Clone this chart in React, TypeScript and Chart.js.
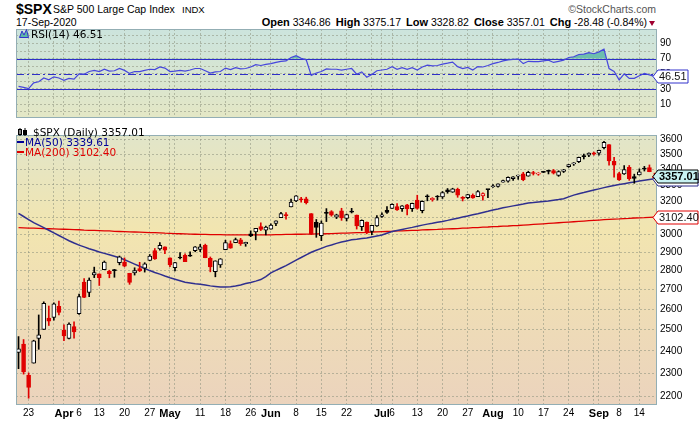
import React, { useEffect, useRef } from 'react';
import { Chart, registerables } from 'chart.js';

Chart.register(...registerables);

// ---------------- DATA ----------------
const DATES = [
  '2020-03-19', '2020-03-20', '2020-03-23', '2020-03-24', '2020-03-25', '2020-03-26', '2020-03-27', '2020-03-30', '2020-03-31',
  '2020-04-01', '2020-04-02', '2020-04-03', '2020-04-06', '2020-04-07', '2020-04-08', '2020-04-09', '2020-04-13', '2020-04-14',
  '2020-04-15', '2020-04-16', '2020-04-17', '2020-04-20', '2020-04-21', '2020-04-22', '2020-04-23', '2020-04-24', '2020-04-27',
  '2020-04-28', '2020-04-29', '2020-04-30', '2020-05-01', '2020-05-04', '2020-05-05', '2020-05-06', '2020-05-07', '2020-05-08',
  '2020-05-11', '2020-05-12', '2020-05-13', '2020-05-14', '2020-05-15', '2020-05-18', '2020-05-19', '2020-05-20', '2020-05-21',
  '2020-05-22', '2020-05-26', '2020-05-27', '2020-05-28', '2020-05-29', '2020-06-01', '2020-06-02', '2020-06-03', '2020-06-04',
  '2020-06-05', '2020-06-08', '2020-06-09', '2020-06-10', '2020-06-11', '2020-06-12', '2020-06-15', '2020-06-16', '2020-06-17',
  '2020-06-18', '2020-06-19', '2020-06-22', '2020-06-23', '2020-06-24', '2020-06-25', '2020-06-26', '2020-06-29', '2020-06-30',
  '2020-07-01', '2020-07-02', '2020-07-06', '2020-07-07', '2020-07-08', '2020-07-09', '2020-07-10', '2020-07-13', '2020-07-14',
  '2020-07-15', '2020-07-16', '2020-07-17', '2020-07-20', '2020-07-21', '2020-07-22', '2020-07-23', '2020-07-24', '2020-07-27',
  '2020-07-28', '2020-07-29', '2020-07-30', '2020-07-31', '2020-08-03', '2020-08-04', '2020-08-05', '2020-08-06', '2020-08-07',
  '2020-08-10', '2020-08-11', '2020-08-12', '2020-08-13', '2020-08-14', '2020-08-17', '2020-08-18', '2020-08-19', '2020-08-20',
  '2020-08-21', '2020-08-24', '2020-08-25', '2020-08-26', '2020-08-27', '2020-08-28', '2020-08-31', '2020-09-01', '2020-09-02',
  '2020-09-03', '2020-09-04', '2020-09-08', '2020-09-09', '2020-09-10', '2020-09-11', '2020-09-14', '2020-09-15', '2020-09-16',
  '2020-09-17',
];

const OPEN = [
  2393.48, 2431.94, 2290.71, 2344.44, 2457.77, 2501.29, 2555.87, 2558.98, 2614.69,
  2498.08, 2458.54, 2514.92, 2578.28, 2738.65, 2685.00, 2776.99, 2782.46, 2805.10,
  2795.64, 2799.34, 2842.43, 2845.62, 2784.81, 2787.89, 2810.42, 2812.64, 2854.65,
  2909.96, 2918.46, 2930.91, 2869.09, 2815.01, 2868.88, 2883.14, 2878.26, 2908.83,
  2915.46, 2939.50, 2865.86, 2794.54, 2829.95, 2913.86, 2948.59, 2953.63, 2969.95,
  2948.05, 3004.08, 3015.65, 3046.61, 3025.17, 3031.48, 3064.78, 3098.90, 3111.56,
  3163.84, 3199.92, 3213.32, 3213.42, 3123.53, 3071.04, 2993.76, 3131.00, 3136.13,
  3101.64, 3140.29, 3094.42, 3138.70, 3114.40, 3046.60, 3073.20, 3018.59, 3050.20,
  3105.92, 3143.64, 3155.29, 3166.44, 3153.07, 3176.17, 3152.47, 3205.08, 3141.11,
  3225.98, 3208.36, 3224.21, 3224.29, 3268.52, 3254.86, 3271.64, 3218.58, 3219.84,
  3234.27, 3227.22, 3231.76, 3270.45, 3288.26, 3289.92, 3317.37, 3323.17, 3340.05,
  3356.04, 3370.34, 3355.46, 3372.95, 3368.66, 3380.86, 3387.04, 3392.51, 3360.48,
  3386.01, 3418.09, 3435.95, 3449.97, 3485.14, 3494.69, 3509.73, 3507.44, 3543.76,
  3564.74, 3453.60, 3371.88, 3369.82, 3412.56, 3352.70, 3363.56, 3407.73, 3411.23,
  3346.86,
];

const HIGH = [
  2466.97, 2453.01, 2300.73, 2449.71, 2571.42, 2637.01, 2615.91, 2631.80, 2641.39,
  2522.75, 2533.22, 2538.18, 2676.85, 2756.89, 2760.75, 2818.57, 2782.46, 2851.85,
  2801.88, 2806.51, 2879.22, 2868.98, 2785.54, 2815.10, 2844.90, 2842.71, 2887.72,
  2921.15, 2954.86, 2930.91, 2869.09, 2844.24, 2898.23, 2891.11, 2901.92, 2932.16,
  2944.25, 2945.82, 2874.14, 2852.80, 2865.01, 2968.09, 2964.21, 2980.29, 2978.50,
  2956.76, 3021.72, 3036.25, 3068.67, 3049.17, 3062.18, 3081.07, 3130.94, 3128.91,
  3211.72, 3233.13, 3222.71, 3223.27, 3123.53, 3088.42, 3079.76, 3153.45, 3141.16,
  3120.00, 3155.53, 3120.92, 3154.90, 3115.01, 3086.25, 3073.73, 3053.89, 3111.51,
  3128.44, 3165.81, 3182.59, 3184.15, 3171.80, 3179.78, 3186.82, 3235.32, 3200.95,
  3238.28, 3220.39, 3233.52, 3258.61, 3277.29, 3279.32, 3279.99, 3227.26, 3241.43,
  3243.72, 3264.74, 3250.92, 3272.17, 3302.73, 3306.84, 3330.77, 3351.03, 3352.54,
  3363.29, 3381.01, 3387.89, 3387.24, 3378.51, 3387.59, 3395.06, 3399.54, 3390.80,
  3399.96, 3432.09, 3444.21, 3481.07, 3501.38, 3509.23, 3514.77, 3528.03, 3588.11,
  3564.85, 3479.15, 3379.97, 3424.77, 3425.55, 3368.95, 3402.93, 3419.48, 3428.92,
  3375.17,
];

const LOW = [
  2319.78, 2295.56, 2191.86, 2344.44, 2407.53, 2500.72, 2520.02, 2545.28, 2571.15,
  2447.49, 2455.79, 2459.96, 2574.57, 2657.67, 2663.30, 2762.36, 2721.17, 2805.10,
  2761.54, 2764.32, 2830.88, 2820.43, 2727.10, 2775.95, 2794.26, 2791.76, 2852.89,
  2860.71, 2912.16, 2892.47, 2821.61, 2797.85, 2863.55, 2847.65, 2876.48, 2902.88,
  2903.44, 2869.59, 2793.15, 2766.64, 2816.78, 2913.86, 2922.35, 2953.63, 2938.57,
  2933.59, 2988.17, 2969.75, 3023.40, 2998.61, 3031.48, 3051.64, 3098.90, 3090.41,
  3163.84, 3196.00, 3193.11, 3181.49, 2999.49, 2984.47, 2965.66, 3076.06, 3108.03,
  3093.51, 3083.11, 3079.39, 3127.12, 3032.13, 3024.01, 3004.63, 2999.74, 3047.83,
  3101.17, 3124.52, 3155.29, 3142.93, 3136.53, 3115.70, 3136.22, 3149.43, 3127.66,
  3200.76, 3198.59, 3205.65, 3215.16, 3247.77, 3253.10, 3222.66, 3200.05, 3214.25,
  3216.17, 3227.22, 3204.13, 3220.26, 3284.53, 3286.37, 3317.37, 3318.14, 3328.72,
  3335.44, 3326.44, 3355.46, 3363.35, 3361.64, 3379.22, 3370.15, 3369.66, 3354.69,
  3379.31, 3413.13, 3425.84, 3444.15, 3468.35, 3484.32, 3493.25, 3494.60, 3535.23,
  3427.41, 3349.63, 3329.27, 3366.84, 3329.25, 3310.47, 3363.56, 3389.25, 3384.45,
  3328.82,
];

const CLOSE = [
  2409.39, 2304.92, 2237.40, 2447.33, 2475.56, 2630.07, 2541.47, 2626.65, 2584.59,
  2470.50, 2526.90, 2488.65, 2663.68, 2659.41, 2749.98, 2789.82, 2761.63, 2846.06,
  2783.36, 2799.55, 2874.56, 2823.16, 2736.56, 2799.31, 2797.80, 2836.74, 2878.48,
  2863.39, 2939.51, 2912.43, 2830.71, 2842.74, 2868.44, 2848.42, 2881.19, 2929.80,
  2930.32, 2870.12, 2820.00, 2852.50, 2863.70, 2953.91, 2922.94, 2971.61, 2948.51,
  2955.45, 2991.77, 3036.13, 3029.73, 3044.31, 3055.73, 3080.82, 3122.87, 3112.35,
  3193.93, 3232.39, 3207.18, 3190.14, 3002.10, 3041.31, 3066.59, 3124.74, 3113.49,
  3115.34, 3097.74, 3117.86, 3131.29, 3050.33, 3083.76, 3009.05, 3053.24, 3100.29,
  3115.86, 3130.01, 3179.72, 3145.32, 3169.94, 3152.05, 3185.04, 3155.22, 3197.52,
  3226.56, 3215.57, 3224.73, 3251.84, 3257.30, 3276.02, 3235.66, 3215.63, 3239.41,
  3218.44, 3258.44, 3246.22, 3271.12, 3294.61, 3306.51, 3327.77, 3349.16, 3351.28,
  3360.47, 3333.69, 3380.35, 3373.43, 3372.85, 3381.99, 3389.78, 3374.85, 3385.51,
  3397.16, 3431.28, 3443.62, 3478.73, 3484.55, 3508.01, 3500.31, 3526.65, 3580.84,
  3455.06, 3426.96, 3331.84, 3398.96, 3339.19, 3340.97, 3383.54, 3401.20, 3385.49,
  3357.01,
];

const PREV_CLOSE = 2398.1; // close of the session before the first candle

const MA50 = [
  3125, 3106, 3088, 3070, 3055, 3040, 3025, 3010, 2995, 2980,
  2965, 2952, 2940, 2930, 2920, 2911, 2902, 2894, 2886, 2878,
  2870, 2859, 2847, 2835, 2823, 2811, 2800, 2790, 2781, 2771,
  2762, 2754, 2746, 2738, 2734, 2730, 2727, 2723, 2719, 2716,
  2713, 2713, 2715, 2718, 2724, 2731, 2737, 2744, 2752, 2768,
  2788, 2801, 2814, 2827, 2842, 2857, 2871, 2886, 2900, 2911,
  2922, 2933, 2941, 2950, 2958, 2964, 2970, 2973, 2977, 2980,
  2986, 2992, 2998, 3008, 3018, 3024, 3030, 3036, 3042, 3049,
  3055, 3061, 3066, 3072, 3077, 3083, 3090, 3096, 3103, 3109,
  3116, 3122, 3130, 3137, 3145, 3151, 3158, 3164, 3170, 3176,
  3181, 3187, 3190, 3194, 3197, 3200, 3205, 3209, 3214, 3225,
  3236, 3245, 3252, 3260, 3268, 3275, 3283, 3290, 3296, 3302,
  3308, 3314, 3319, 3325, 3330, 3335, 3339.61,
];

const MA200 = [
  3040, 3039, 3038, 3037, 3036, 3035, 3034, 3033, 3032, 3031,
  3030, 3029, 3028, 3026, 3025, 3024, 3023, 3022, 3021, 3019,
  3018, 3017, 3016, 3015, 3014, 3013, 3012, 3011, 3010, 3008,
  3007, 3006, 3005, 3004, 3003, 3002, 3001, 3001, 3000, 3000,
  3000, 2999, 2999, 2999, 2999, 2999, 2999, 2999, 2999, 2999,
  2999, 3000, 3000, 3001, 3001, 3002, 3002, 3003, 3003, 3004,
  3004, 3005, 3006, 3007, 3008, 3009, 3010, 3011, 3012, 3013,
  3015, 3016, 3017, 3018, 3019, 3021, 3022, 3023, 3024, 3025,
  3027, 3028, 3029, 3030, 3032, 3033, 3034, 3035, 3037, 3038,
  3040, 3041, 3043, 3044, 3046, 3047, 3049, 3050, 3052, 3053,
  3055, 3057, 3059, 3061, 3063, 3065, 3067, 3069, 3071, 3073,
  3075, 3077, 3079, 3081, 3083, 3085, 3087, 3089, 3091, 3092,
  3094, 3095, 3097, 3098, 3099, 3101, 3102.4,
];

const RSI = [
  33.5, 32, 30.5, 38, 39.5, 44.5, 42, 46, 44.5, 41.5,
  44, 43, 50, 49.5, 53, 54.5, 53, 56, 53.5, 54,
  57, 54.5, 50.5, 53, 53, 54.5, 56, 55.5, 59, 57.5,
  53, 53.5, 54.5, 53.5, 55, 57, 57, 54, 51, 52.5,
  53, 57.5, 55.5, 58, 56.5, 57, 59, 62, 61, 62.5,
  63.5, 65, 66.5, 67, 71.5, 74, 70.5, 68.5, 48, 51,
  53, 56.5, 56, 56, 55, 56, 57, 49.5, 52.5, 45.5,
  49, 54, 55, 56, 59.5, 56, 58, 56, 58, 55,
  59, 61.5, 60.5, 61, 62.8, 64, 65.5, 59.5, 57, 58.5,
  55, 59.5, 59, 61, 63.5, 65, 67, 68.5, 69, 69.5,
  63.5, 66.5, 66, 66, 67, 68, 65, 66.5, 68, 71.5,
  72.5, 75.5, 76, 78, 76.5, 79, 82.5, 57, 53, 42,
  50, 44, 44, 47.5, 50.5, 48.5, 46.51,
];

const PRICE_TICKS = [2200, 2300, 2400, 2500, 2600, 2700, 2800, 2900, 3000, 3100, 3200, 3300, 3400, 3500, 3600];
const PRICE_MIN = 2163.5;
const PRICE_MAX = 3631.7;

const RSI_TICKS = [0, 10, 20, 30, 40, 50, 60, 70, 80, 90, 100];
const RSI_LABELED = [10, 30, 50, 70, 90];
const RSI_LEVELS = [30, 50, 70];
const RSI_MIN = -8.4;
const RSI_MAX = 109.2;

// x ticks: index into DATES, with its label ('' = grid line only)
const X_TICKS = [2, 7, 9, 12, 16, 21, 26, 30, 31, 36, 41, 46, 50, 55, 60, 65, 70, 72, 74, 79, 84, 89, 94, 99, 104, 109, 114, 115, 119, 123];
const X_TICK_LABELS = ['23', '', 'Apr', '6', '13', '20', '27', 'May', '', '11', '18', '26', 'Jun', '8', '15', '22', '', 'Jul', '6', '13', '20', '27', 'Aug', '10', '17', '24', '', 'Sep', '8', '14'];
const MONTH_LABELS = ['Apr', 'May', 'Jun', 'Jul', 'Aug', 'Sep'];

const LAST_CLOSE = 3357.01;
const LAST_MA50 = 3339.61;
const LAST_MA200 = 3102.4;
const LAST_RSI = 46.51;

// ---------------- STYLE ----------------
const RED = '#e00000';
const BLACK = '#000000';
const GRID = 'rgba(140,145,125,0.55)';
const FRAME = '#93aeb4';
const SANS = '"Liberation Sans", Arial, sans-serif';
const VERD = '"DejaVu Sans", Verdana, sans-serif';

const candleColor = CLOSE.map((c, i) => (c < (i === 0 ? PREV_CLOSE : CLOSE[i - 1]) ? RED : BLACK));
const bodyFill = CLOSE.map((c, i) => {
  const filled = c < OPEN[i] || Math.abs(c - OPEN[i]) < 3;
  return filled ? candleColor[i] : '#ffffff';
});

function panelPlugin(stops: [number, string][]) {
  return {
    id: 'panel',
    beforeDraw(chart: any) {
      const { ctx, chartArea: a } = chart;
      const g = ctx.createLinearGradient(0, a.top, 0, a.bottom);
      stops.forEach(([o, c]) => g.addColorStop(o, c));
      ctx.save();
      ctx.fillStyle = g;
      ctx.fillRect(a.left, a.top, a.right - a.left, a.bottom - a.top);
      ctx.restore();
    },
    afterDatasetsDraw(chart: any) {
      const { ctx, chartArea: a } = chart;
      ctx.save();
      ctx.strokeStyle = FRAME;
      ctx.lineWidth = 1;
      ctx.strokeRect(a.left + 0.5, a.top + 0.5, a.right - a.left - 1, a.bottom - a.top - 1);
      ctx.restore();
    },
  };
}

function drawTag(ctx: CanvasRenderingContext2D, x: number, y: number, w: number, text: string,
  o: { fill: string; stroke: string; color: string; bold?: boolean }) {
  const h = 13;
  const tip = 5;
  const yy = Math.round(y) + 0.5;
  ctx.save();
  ctx.beginPath();
  ctx.moveTo(x, yy);
  ctx.lineTo(x + tip, yy - h / 2);
  ctx.lineTo(x + w, yy - h / 2);
  ctx.lineTo(x + w, yy + h / 2);
  ctx.lineTo(x + tip, yy + h / 2);
  ctx.closePath();
  ctx.fillStyle = o.fill;
  ctx.fill();
  ctx.lineWidth = 1;
  ctx.strokeStyle = o.stroke;
  ctx.stroke();
  ctx.fillStyle = o.color;
  ctx.font = `${o.bold ? 'bold ' : ''}11px ${SANS}`;
  ctx.textBaseline = 'middle';
  ctx.textAlign = 'left';
  ctx.fillText(text, x + tip + 1, yy + 0.5);
  ctx.restore();
}

const mainTags = {
  id: 'mainTags',
  afterDraw(chart: any) {
    const { ctx, chartArea: a, scales } = chart;
    const y = scales.y;
    const x0 = a.right - 4;
    drawTag(ctx, x0, y.getPixelForValue(LAST_MA200), 45, LAST_MA200.toFixed(2), { fill: '#ffffff', stroke: RED, color: '#111' });
    drawTag(ctx, x0, y.getPixelForValue(LAST_MA50), 45, LAST_MA50.toFixed(2), { fill: '#ffffff', stroke: '#2f2f8f', color: '#111' });
    drawTag(ctx, x0, y.getPixelForValue(LAST_CLOSE), 45, LAST_CLOSE.toFixed(2), { fill: '#c8f2f2', stroke: '#000', color: '#000', bold: true });
  },
};

const rsiExtras = {
  id: 'rsiExtras',
  beforeDatasetsDraw(chart: any) {
    const { ctx, chartArea: a, scales } = chart;
    ctx.save();
    ctx.strokeStyle = '#2f2fc8';
    ctx.lineWidth = 1.2;
    RSI_LEVELS.forEach((lv) => {
      const yy = Math.round(scales.y.getPixelForValue(lv)) + 0.5;
      ctx.setLineDash(lv === 50 ? [8, 3, 2, 3] : []);
      ctx.beginPath();
      ctx.moveTo(a.left, yy);
      ctx.lineTo(a.right, yy);
      ctx.stroke();
    });
    ctx.restore();
  },
  afterDraw(chart: any) {
    const { ctx, chartArea: a, scales } = chart;
    drawTag(ctx, a.right - 4, scales.y.getPixelForValue(LAST_RSI), 35, LAST_RSI.toFixed(2), { fill: '#ffffff', stroke: '#3333cc', color: '#111' });
  },
};

function xScale(showTicks: boolean) {
  return {
    type: 'category',
    offset: true,
    grid: { offset: false, color: GRID, drawTicks: false, lineWidth: 1 },
    border: { display: false, dash: [2, 2] },
    ticks: {
      display: showTicks,
      autoSkip: false,
      maxRotation: 0,
      minRotation: 0,
      padding: 2,
      color: '#000',
      font: (ctx: any) => {
        const lbl = X_TICK_LABELS[ctx.index];
        const isMonth = MONTH_LABELS.includes(lbl);
        return { family: SANS, size: isMonth ? 11 : 10, weight: isMonth ? 'bold' : 'normal' };
      },
      callback: (_v: any, i: number) => X_TICK_LABELS[i],
    },
    afterBuildTicks: (s: any) => {
      s.ticks = X_TICKS.map((v) => ({ value: v }));
    },
    afterFit: (s: any) => {
      s.height = showTicks ? 16 : 0;
    },
  };
}

export default function App() {
  const rsiRef = useRef<HTMLCanvasElement | null>(null);
  const mainRef = useRef<HTMLCanvasElement | null>(null);

  useEffect(() => {
    const rsiChart = new Chart(rsiRef.current as HTMLCanvasElement, {
      type: 'line',
      data: {
        labels: DATES,
        datasets: [
          {
            data: RSI,
            borderColor: '#4646dc',
            borderWidth: 1.2,
            pointRadius: 0,
            tension: 0,
            fill: { target: { value: 70 }, above: '#6cbdae', below: 'rgba(0,0,0,0)' },
          },
        ],
      },
      options: {
        animation: false,
        responsive: false,
        events: [],
        layout: { padding: { left: 16, top: 8, right: 0, bottom: 1 } },
        plugins: { legend: { display: false }, tooltip: { enabled: false } },
        scales: {
          x: xScale(false) as any,
          y: {
            type: 'linear',
            position: 'right',
            min: RSI_MIN,
            max: RSI_MAX,
            grid: { color: GRID, drawTicks: false },
            border: { display: false, dash: [2, 2] },
            ticks: {
              autoSkip: false,
              padding: 3,
              color: '#000',
              font: { family: SANS, size: 10 },
              callback: (v: any) => (RSI_LABELED.includes(Number(v)) ? String(v) : ''),
            },
            afterBuildTicks: (s: any) => {
              s.ticks = RSI_TICKS.map((v) => ({ value: v }));
            },
            afterFit: (s: any) => {
              s.width = 43;
            },
          },
        },
      },
      plugins: [panelPlugin([[0, '#cce4dd'], [0.5, '#d7e5d2'], [1, '#e4e7c5']]), rsiExtras],
    } as any);

    const mainChart = new Chart(mainRef.current as HTMLCanvasElement, {
      type: 'bar',
      data: {
        labels: DATES,
        datasets: [
          {
            type: 'bar',
            data: OPEN.map((o, i) => [o, CLOSE[i]]),
            backgroundColor: bodyFill,
            borderColor: candleColor,
            borderWidth: 1,
            borderSkipped: false,
            barThickness: 4,
            maxBarThickness: 4,
            minBarLength: 1,
            grouped: false,
            order: 0,
          },
          {
            type: 'bar',
            data: LOW.map((l, i) => [l, HIGH[i]]),
            backgroundColor: candleColor,
            borderWidth: 0,
            barThickness: 1,
            maxBarThickness: 1,
            grouped: false,
            order: 1,
          },
          {
            type: 'line',
            data: MA50,
            borderColor: '#2f2f8f',
            borderWidth: 1.5,
            pointRadius: 0,
            order: 2,
          },
          {
            type: 'line',
            data: MA200,
            borderColor: RED,
            borderWidth: 1.3,
            pointRadius: 0,
            order: 3,
          },
        ],
      },
      options: {
        animation: false,
        responsive: false,
        events: [],
        layout: { padding: { left: 16, top: 1, right: 0, bottom: 0 } },
        plugins: { legend: { display: false }, tooltip: { enabled: false } },
        scales: {
          x: xScale(true) as any,
          y: {
            type: 'logarithmic',
            position: 'right',
            min: PRICE_MIN,
            max: PRICE_MAX,
            grid: { color: GRID, drawTicks: false },
            border: { display: false, dash: [2, 2] },
            ticks: {
              autoSkip: false,
              padding: 3,
              color: '#000',
              font: { family: SANS, size: 10 },
              callback: (v: any) => String(v),
            },
            afterBuildTicks: (s: any) => {
              s.ticks = PRICE_TICKS.map((v) => ({ value: v }));
            },
            afterFit: (s: any) => {
              s.width = 43;
            },
          },
        },
      },
      plugins: [panelPlugin([[0, '#e1e5c9'], [0.35, '#f2e5b0'], [1, '#ebd3bd']]), mainTags],
    } as any);

    return () => {
      rsiChart.destroy();
      mainChart.destroy();
    };
  }, []);

  const abs = (extra: React.CSSProperties): React.CSSProperties => ({
    position: 'absolute',
    whiteSpace: 'nowrap',
    lineHeight: 1,
    ...extra,
  });

  return (
    <div style={{ position: 'absolute', left: 0, top: 0, width: 700, height: 421, background: '#fff', overflow: 'hidden', fontFamily: SANS, color: '#000' }}>
      {/* header */}
      <div style={abs({ left: 16, top: 2, fontSize: 14, fontWeight: 'bold' })}>$SPX</div>
      <div style={abs({ left: 53, top: 4, fontSize: 10.5 })}>S&amp;P 500 Large Cap Index</div>
      <div style={abs({ left: 182, top: 4.5, fontSize: 9.5 })}>INDX</div>
      <div style={abs({ right: 44, top: 3.5, fontSize: 10.5, color: '#555' })}>©StockCharts.com</div>
      <div style={abs({ left: 16, top: 17, fontSize: 10.5 })}>17-Sep-2020</div>
      <div style={abs({ right: 53, top: 17, fontSize: 11 })}>
        <b>Open</b><span style={{ fontSize: 10.5 }}> 3346.86</span>
        <b style={{ marginLeft: 5 }}>High</b><span style={{ fontSize: 10.5 }}> 3375.17</span>
        <b style={{ marginLeft: 5 }}>Low</b><span style={{ fontSize: 10.5 }}> 3328.82</span>
        <b style={{ marginLeft: 5 }}>Close</b><span style={{ fontSize: 10.5 }}> 3357.01</span>
        <b style={{ marginLeft: 5 }}>Chg</b><span style={{ fontSize: 10.5 }}> -28.48 (-0.84%)</span>
      </div>
      <div style={{ position: 'absolute', left: 649, top: 21, width: 0, height: 0, borderLeft: '3.5px solid transparent', borderRight: '3.5px solid transparent', borderTop: '5px solid #a00030' }} />

      <canvas ref={rsiRef} width={700} height={107} style={{ position: 'absolute', left: 0, top: 20, width: 700, height: 107 }} />
      <canvas ref={mainRef} width={700} height={295} style={{ position: 'absolute', left: 0, top: 126, width: 700, height: 295 }} />

      {/* RSI legend */}
      <svg style={{ position: 'absolute', left: 19, top: 29 }} width={10} height={9}>
        <polygon points="0.5,8.5 3,2 5,6 7.5,0.5 9.5,8.5" fill="#5cb8a8" stroke="#3333cc" strokeWidth={1} />
      </svg>
      <div style={abs({ left: 31, top: 29, fontSize: 10.5, fontFamily: VERD })}>RSI(14) 46.51</div>

      {/* main legend */}
      <svg style={{ position: 'absolute', left: 18, top: 128 }} width={10} height={8}>
        <rect x={0.5} y={1.5} width={3} height={5} fill="#fff" stroke="#000" />
        <line x1={2} y1={0} x2={2} y2={8} stroke="#000" />
        <rect x={5.5} y={2.5} width={3} height={4} fill="#000" stroke="#000" />
        <line x1={7} y1={0} x2={7} y2={8} stroke="#000" />
      </svg>
      <div style={abs({ left: 33, top: 126.5, fontSize: 10.5, fontFamily: VERD })}>$SPX (Daily) 3357.01</div>
      <div style={{ position: 'absolute', left: 17, top: 141, width: 7, height: 2, background: '#000099' }} />
      <div style={abs({ left: 25, top: 136.5, fontSize: 10.5, fontFamily: VERD, color: '#000099' })}>MA(50) 3339.61</div>
      <div style={{ position: 'absolute', left: 17, top: 151, width: 7, height: 2, background: RED }} />
      <div style={abs({ left: 25, top: 147, fontSize: 10.5, fontFamily: VERD, color: RED })}>MA(200) 3102.40</div>
    </div>
  );
}
